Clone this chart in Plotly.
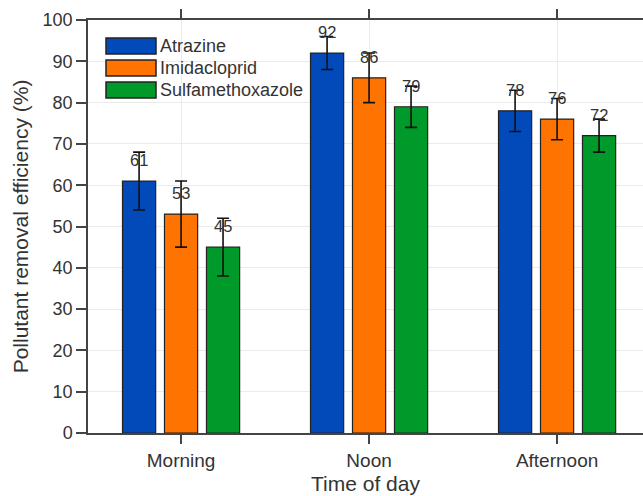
import plotly.graph_objects as go

categories = ["Morning", "Noon", "Afternoon"]
series_names = ["Atrazine", "Imidacloprid", "Sulfamethoxazole"]
atrazine = [61, 92, 78]
imidacloprid = [53, 86, 76]
sulfamethoxazole = [45, 79, 72]
atrazine_err = [7, 4, 5]
imidacloprid_err = [8, 6, 5]
sulfamethoxazole_err = [7, 5, 4]
y_ticks = [0, 10, 20, 30, 40, 50, 60, 70, 80, 90, 100]

values = [atrazine, imidacloprid, sulfamethoxazole]
errors = [atrazine_err, imidacloprid_err, sulfamethoxazole_err]
colors = ["#0249BA", "#FF7300", "#009A2A"]

FONT = "Liberation Sans, Arial, sans-serif"
TXT = "#333333"

fig = go.Figure()
for name, vals, errs, col in zip(series_names, values, errors, colors):
    fig.add_trace(go.Bar(
        x=categories, y=vals, name=name,
        marker=dict(color=col, line=dict(color="#222222", width=1.2)),
        error_y=dict(type="data", array=errs, visible=True,
                     color="#111111", thickness=1.6, width=6),
        showlegend=False,
    ))

bargap = 0.33
groupgap = 0.21
slot = (1 - bargap) / 3
annotations = []
for i, (vals, errs) in enumerate(zip(values, errors)):
    off = (i - 1) * slot
    for j, v in enumerate(vals):
        annotations.append(dict(
            x=j + off, y=v, xref="x", yref="y", text=str(v),
            showarrow=False, yshift=21,
            font=dict(family=FONT, size=16.5, color=TXT),
        ))

# custom legend (large swatches)
ML, MT, MB = 88, 20, 63
W, H = 643, 496
PW = float(W - ML)
PH = float(H - MT - MB)
for k, (name, col) in enumerate(zip(series_names, colors)):
    y0 = 1 - (18 + k * 22) / PH
    y1 = y0 - 16 / PH
    fig.add_shape(type="rect", xref="paper", yref="paper",
                  x0=18 / PW, x1=68 / PW, y0=y1, y1=y0,
                  fillcolor=col, line=dict(color="#222222", width=1.5))
    annotations.append(dict(
        x=70 / PW, y=(y0 + y1) / 2, xref="paper", yref="paper",
        text=name, showarrow=False, xanchor="left", yanchor="middle",
        font=dict(family=FONT, size=18, color=TXT),
    ))

fig.update_layout(
    width=W, height=H,
    margin=dict(l=ML, r=0, t=MT, b=MB),
    paper_bgcolor="white", plot_bgcolor="white",
    barmode="group", bargap=bargap, bargroupgap=groupgap,
    font=dict(family=FONT, size=16, color=TXT),
    hovermode=False,
    annotations=annotations,
    xaxis=dict(
        type="category", range=[-0.495, 2.457], automargin=False,
        showline=True, linecolor="#444444", linewidth=1.5,
        mirror="ticks", ticks="outside", ticklen=9, tickwidth=1.5,
        tickcolor="#444444",
        showgrid=True, gridcolor="#EBEBEB", gridwidth=1,
        tickfont=dict(family=FONT, size=19, color=TXT),
        title=dict(text="Time of day", standoff=7,
                   font=dict(family=FONT, size=21, color=TXT)),
    ),
    yaxis=dict(
        range=[0, 100], tickvals=y_ticks, automargin=False,
        showline=True, linecolor="#444444", linewidth=1.5,
        mirror=False, ticks="outside", ticklen=10, tickwidth=1.5,
        tickcolor="#444444",
        showgrid=True, gridcolor="#EBEBEB", gridwidth=1,
        zeroline=False,
        tickfont=dict(family=FONT, size=18, color=TXT),
        title=dict(text="Pollutant removal efficiency (%)", standoff=8,
                   font=dict(family=FONT, size=21, color=TXT)),
    ),
)

fig.write_html("out.html",
               config={"displayModeBar": False},
               post_script="document.body.style.margin='0';")
